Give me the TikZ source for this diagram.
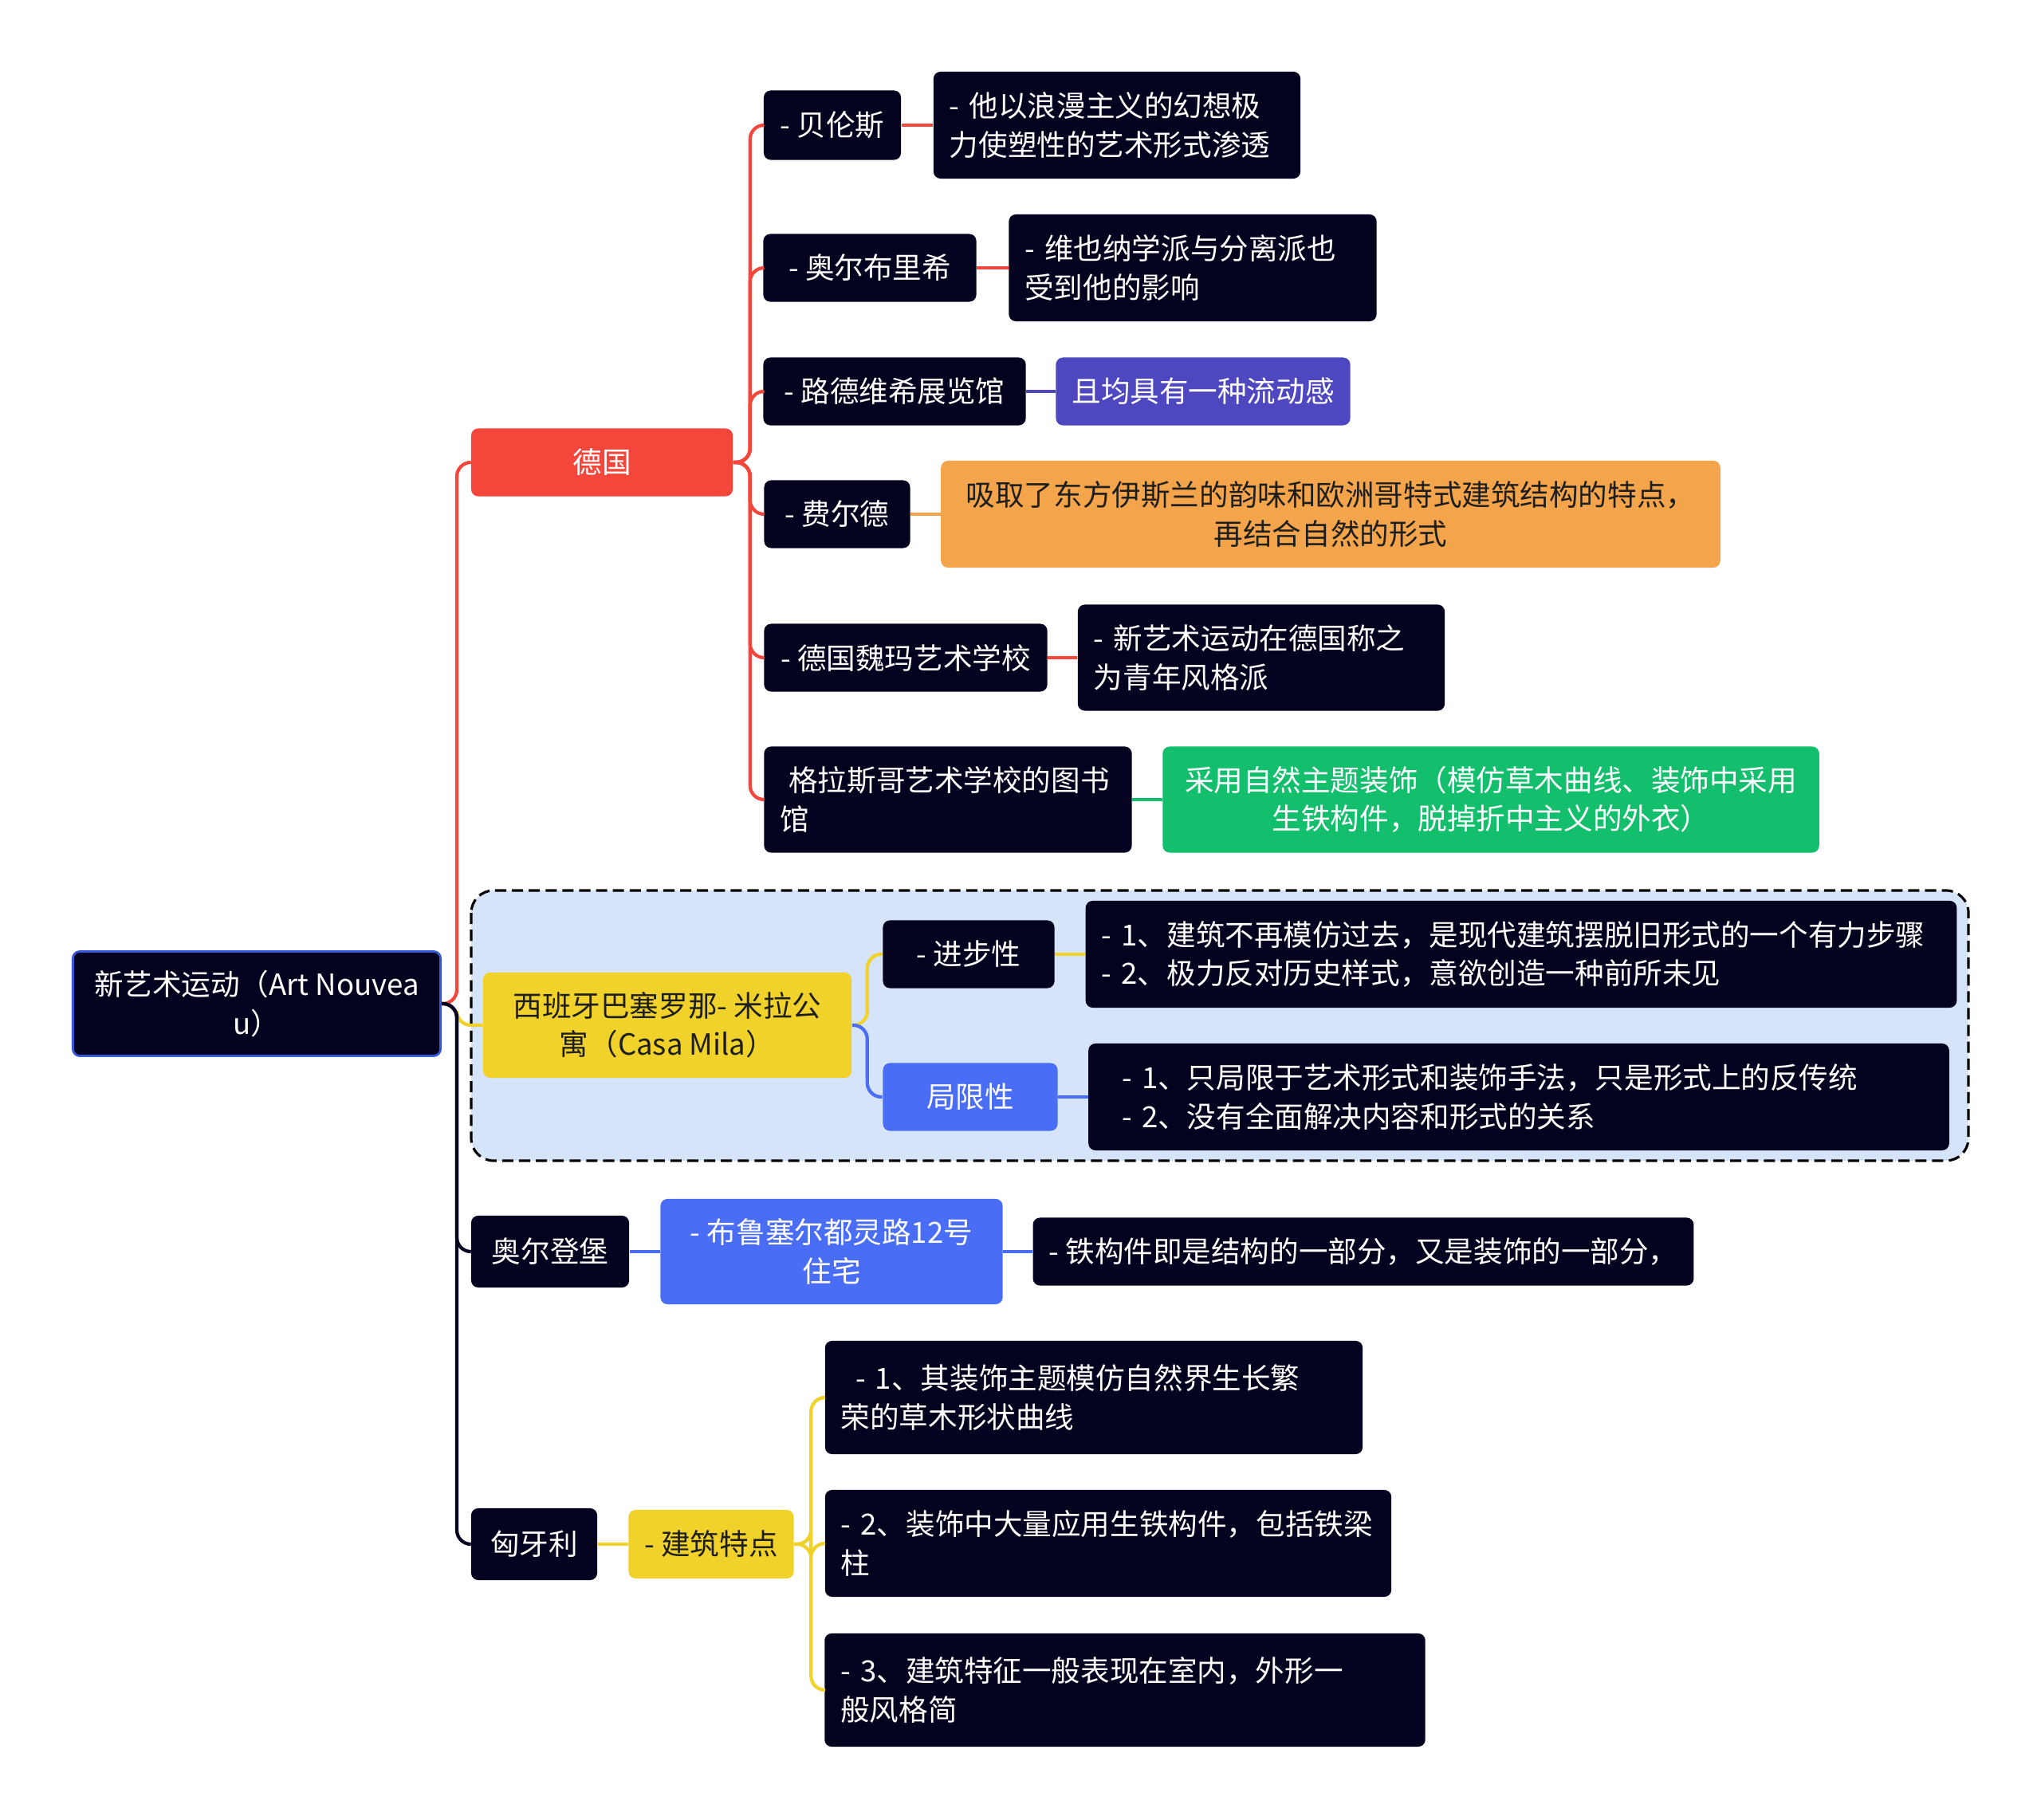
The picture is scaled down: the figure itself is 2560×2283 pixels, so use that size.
\documentclass[tikz,border=0pt]{standalone}
\usepackage{fontspec}
\setmainfont{Noto Sans CJK SC}
\definecolor{navy}{HTML}{03021F}
\definecolor{mmred}{HTML}{F5463C}
\definecolor{mmyellow}{HTML}{F1D22A}
\definecolor{mmblue}{HTML}{4A6DF5}
\definecolor{mmpurple}{HTML}{4E47BF}
\definecolor{mmorange}{HTML}{F4A54B}
\definecolor{mmgreen}{HTML}{13BE6C}
\definecolor{mmbg}{HTML}{D6E4FA}
\definecolor{rootedge}{HTML}{3558D8}
\definecolor{darktext}{HTML}{1E1E1E}
\begin{document}
\begin{tikzpicture}[
		x=0.01cm, y=-0.01cm,
		every node/.style={font=\fontsize{10.4pt}{13.8pt}\selectfont, inner ysep=0pt, inner xsep=0.2cm, rounded corners=2.5pt},
		darkbox/.style={fill=navy, text=white},
		sz/.style 2 args={minimum width=#1, minimum height=#2},
		lefttext/.style={align=left, text width=#1},
		link/.style={line width=1.2pt, rounded corners=5pt}
	]
	\useasboundingbox (0,0) rectangle (2560,2283);
	% casa mila background
	\draw[fill=mmbg, dash pattern=on 4pt off 2pt, line width=0.9pt, rounded corners=8pt] (591,1117) rectangle (2469,1456);

	\node[darkbox, draw=rootedge, line width=0.8pt, align=center, sz={4.61cm}{1.31cm}] (root) at (322,1259) {新艺术运动（Art Nouvea\\u）};

	\node[fill=mmred, text=white, sz={3.28cm}{.85cm}] (de) at (755,580) {德国};
	\node[fill=mmyellow, text=darktext, align=center, sz={4.62cm}{1.32cm}] (casa) at (837,1286) {西班牙巴塞罗那- 米拉公\\寓（Casa Mila）};
	\node[darkbox, sz={1.98cm}{.9cm}] (aoerdb) at (690,1570) {奥尔登堡};
	\node[darkbox, sz={1.58cm}{.9cm}] (xyl) at (670,1937) {匈牙利};

	% germany
	\node[darkbox, sz={1.72cm}{.87cm}] (belunsi) at (1044,157) {- 贝伦斯};
	\node[darkbox, lefttext=4.2cm, minimum height=1.34cm] (belunsit) at (1401,157) {- 他以浪漫主义的幻想极\\力使塑性的艺术形式渗透};
	\node[darkbox, sz={2.67cm}{.85cm}] (aoer) at (1091,336) {- 奥尔布里希};
	\node[darkbox, lefttext=4.21cm, minimum height=1.34cm] (aoert) at (1496,336) {- 维也纳学派与分离派也\\受到他的影响};
	\node[darkbox, sz={3.29cm}{.85cm}] (ludw) at (1122,491) {- 路德维希展览馆};
	\node[fill=mmpurple, text=white, sz={3.63cm}{.85cm}] (ludwt) at (1509,491) {且均具有一种流动感};
	\node[darkbox, sz={1.83cm}{.85cm}] (feier) at (1050,645) {- 费尔德};
	\node[fill=mmorange, text=darktext, align=center, sz={9.77cm}{1.34cm}] (feiert) at (1669,645) {吸取了东方伊斯兰的韵味和欧洲哥特式建筑结构的特点，\\再结合自然的形式};
	\node[darkbox, sz={3.55cm}{.85cm}] (weima) at (1136,825) {- 德国魏玛艺术学校};
	\node[darkbox, lefttext=4.2cm, minimum height=1.33cm] (weimat) at (1582,825) {- 新艺术运动在德国称之\\为青年风格派};
	\node[darkbox, lefttext=4.21cm, minimum height=1.33cm] (glsg) at (1189,1003) {\hspace{0.3em}格拉斯哥艺术学校的图书\\馆};
	\node[fill=mmgreen, text=white, align=center, sz={8.23cm}{1.33cm}] (glsgt) at (1870,1003) {采用自然主题装饰（模仿草木曲线、装饰中采用\\生铁构件，脱掉折中主义的外衣）};

	% casa mila
	\node[darkbox, sz={2.15cm}{.85cm}] (jinbu) at (1215,1197) {- 进步性};
	\node[darkbox, lefttext=10.52cm, minimum height=1.34cm] (jinbut) at (1908,1197) {- 1、建筑不再模仿过去，是现代建筑摆脱旧形式的一个有力步骤\\- 2、极力反对历史样式，意欲创造一种前所未见};
	\node[fill=mmblue, text=white, sz={2.19cm}{.85cm}] (juxian) at (1217,1376) {局限性};
	\node[darkbox, lefttext=9.95cm, inner xsep=0.42cm, minimum height=1.34cm] (juxiant) at (1905,1376) {- 1、只局限于艺术形式和装饰手法，只是形式上的反传统\\- 2、没有全面解决内容和形式的关系};

	% oldenburg
	\node[fill=mmblue, text=white, align=center, sz={4.29cm}{1.32cm}] (brussel) at (1043,1570) {- 布鲁塞尔都灵路12号\\住宅};
	\node[darkbox, sz={8.28cm}{.85cm}] (brusselt) at (1710,1570) {- 铁构件即是结构的一部分，又是装饰的一部分，};

	% hungary
	\node[fill=mmyellow, text=darktext, sz={2.07cm}{.86cm}] (jztd) at (892,1937) {- 建筑特点};
	\node[darkbox, lefttext=6.34cm, minimum height=1.42cm] (tedian1) at (1372,1753) {\hspace{0.5em}- 1、其装饰主题模仿自然界生长繁\\荣的草木形状曲线};
	\node[darkbox, lefttext=6.7cm, minimum height=1.34cm] (tedian2) at (1390,1936) {- 2、装饰中大量应用生铁构件，包括铁梁\\柱};
	\node[darkbox, lefttext=7.13cm, minimum height=1.42cm] (tedian3) at (1411,2120) {- 3、建筑特征一般表现在室内，外形一\\般风格简};

	% trunk
	\draw[link, mmred] (root.east) -- ++(19,0) |- (de.west);
	\draw[link, mmyellow] (root.east) -- ++(19,0) |- (casa.west);
	\draw[link, navy] (root.east) -- ++(19,0) |- (aoerdb.west);
	\draw[link, navy] (root.east) -- ++(19,0) |- (xyl.west);

	\draw[link, mmred] (de.east) -- ++(21,0) |- (belunsi.west);
	\draw[link, mmred] (de.east) -- ++(21,0) |- (aoer.west);
	\draw[link, mmred] (de.east) -- ++(21,0) |- (ludw.west);
	\draw[link, mmred] (de.east) -- ++(21,0) |- (feier.west);
	\draw[link, mmred] (de.east) -- ++(21,0) |- (weima.west);
	\draw[link, mmred] (de.east) -- ++(21,0) |- (glsg.west);
	\draw[link, mmred] (belunsi.east) -- (belunsit.west);
	\draw[link, mmred] (aoer.east) -- (aoert.west);
	\draw[link, mmpurple] (ludw.east) -- (ludwt.west);
	\draw[link, mmorange] (feier.east) -- (feiert.west);
	\draw[link, mmred] (weima.east) -- (weimat.west);
	\draw[link, mmgreen] (glsg.east) -- (glsgt.west);

	\draw[link, mmyellow] (casa.east) -- ++(19,0) |- (jinbu.west);
	\draw[link, mmblue] (casa.east) -- ++(19,0) |- (juxian.west);
	\draw[link, mmyellow] (jinbu.east) -- (jinbut.west);
	\draw[link, mmblue] (juxian.east) -- (juxiant.west);

	\draw[link, mmblue] (aoerdb.east) -- (brussel.west);
	\draw[link, mmblue] (brussel.east) -- (brusselt.west);

	\draw[link, mmyellow] (xyl.east) -- (jztd.west);
	\draw[link, mmyellow] (jztd.east) -- ++(21,0) |- (tedian1.west);
	\draw[link, mmyellow] (jztd.east) -- ++(21,0) |- (tedian2.west);
	\draw[link, mmyellow] (jztd.east) -- ++(21,0) |- (tedian3.west);
\end{tikzpicture}
\end{document}
